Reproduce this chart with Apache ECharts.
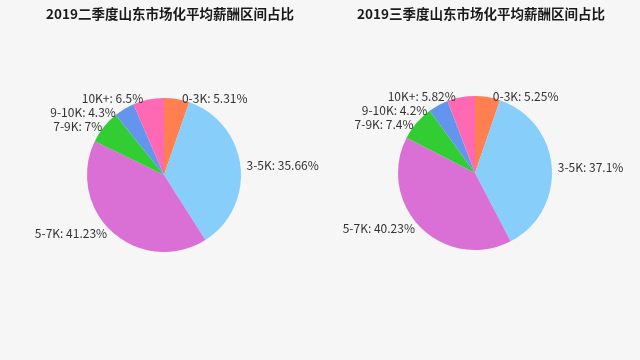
<!DOCTYPE html>
<html><head><meta charset="utf-8">
<script src="https://cdn.jsdelivr.net/npm/echarts@6/dist/echarts.min.js"></script>
<style>html,body{margin:0;padding:0;background:#f6f6f6;}#c{width:640px;height:360px;}</style>
</head><body><div id="c"></div>
<script>
const categories = ['0-3K','3-5K','5-7K','7-9K','9-10K','10K+'];
const titles = ['2019二季度山东市场化平均薪酬区间占比','2019三季度山东市场化平均薪酬区间占比'];
const q2Values = [5.31, 35.66, 41.23, 7, 4.3, 6.5];
const q3Values = [5.25, 37.1, 40.23, 7.4, 4.2, 5.82];
const colors = ['#ff7f50','#87cefa','#da70d6','#32cd32','#6495ed','#ff69b4'];

const chart = echarts.init(document.getElementById('c'));
const font = '"Noto Sans CJK SC", "Noto Sans", sans-serif';
function mk(vals, cx, cy){
  return {
    type:'pie', center:[cx, cy], radius:77, startAngle:90, clockwise:true,
    data: categories.map((n,i)=>({name:n, value:vals[i]})),
    label:{show:true, position:'outside', formatter:'{b}: {c}%', color:'#333', fontSize:12, fontFamily:font},
    labelLine:{show:false, length:1, length2:0},
    emphasis:{disabled:true},
    animation:false
  };
}
chart.setOption({
  backgroundColor:'#f6f6f6',
  color: colors,
  animation:false,
  title:[
    {text:titles[0], left:165, top:2, textAlign:'center', textStyle:{fontSize:13.5, fontWeight:'bold', color:'#1a1a1a', fontFamily:font}},
    {text:titles[1], left:476, top:2, textAlign:'center', textStyle:{fontSize:13.5, fontWeight:'bold', color:'#1a1a1a', fontFamily:font}}
  ],
  series:[mk(q2Values,164,175), mk(q3Values,475,173)]
});
</script></body></html>
